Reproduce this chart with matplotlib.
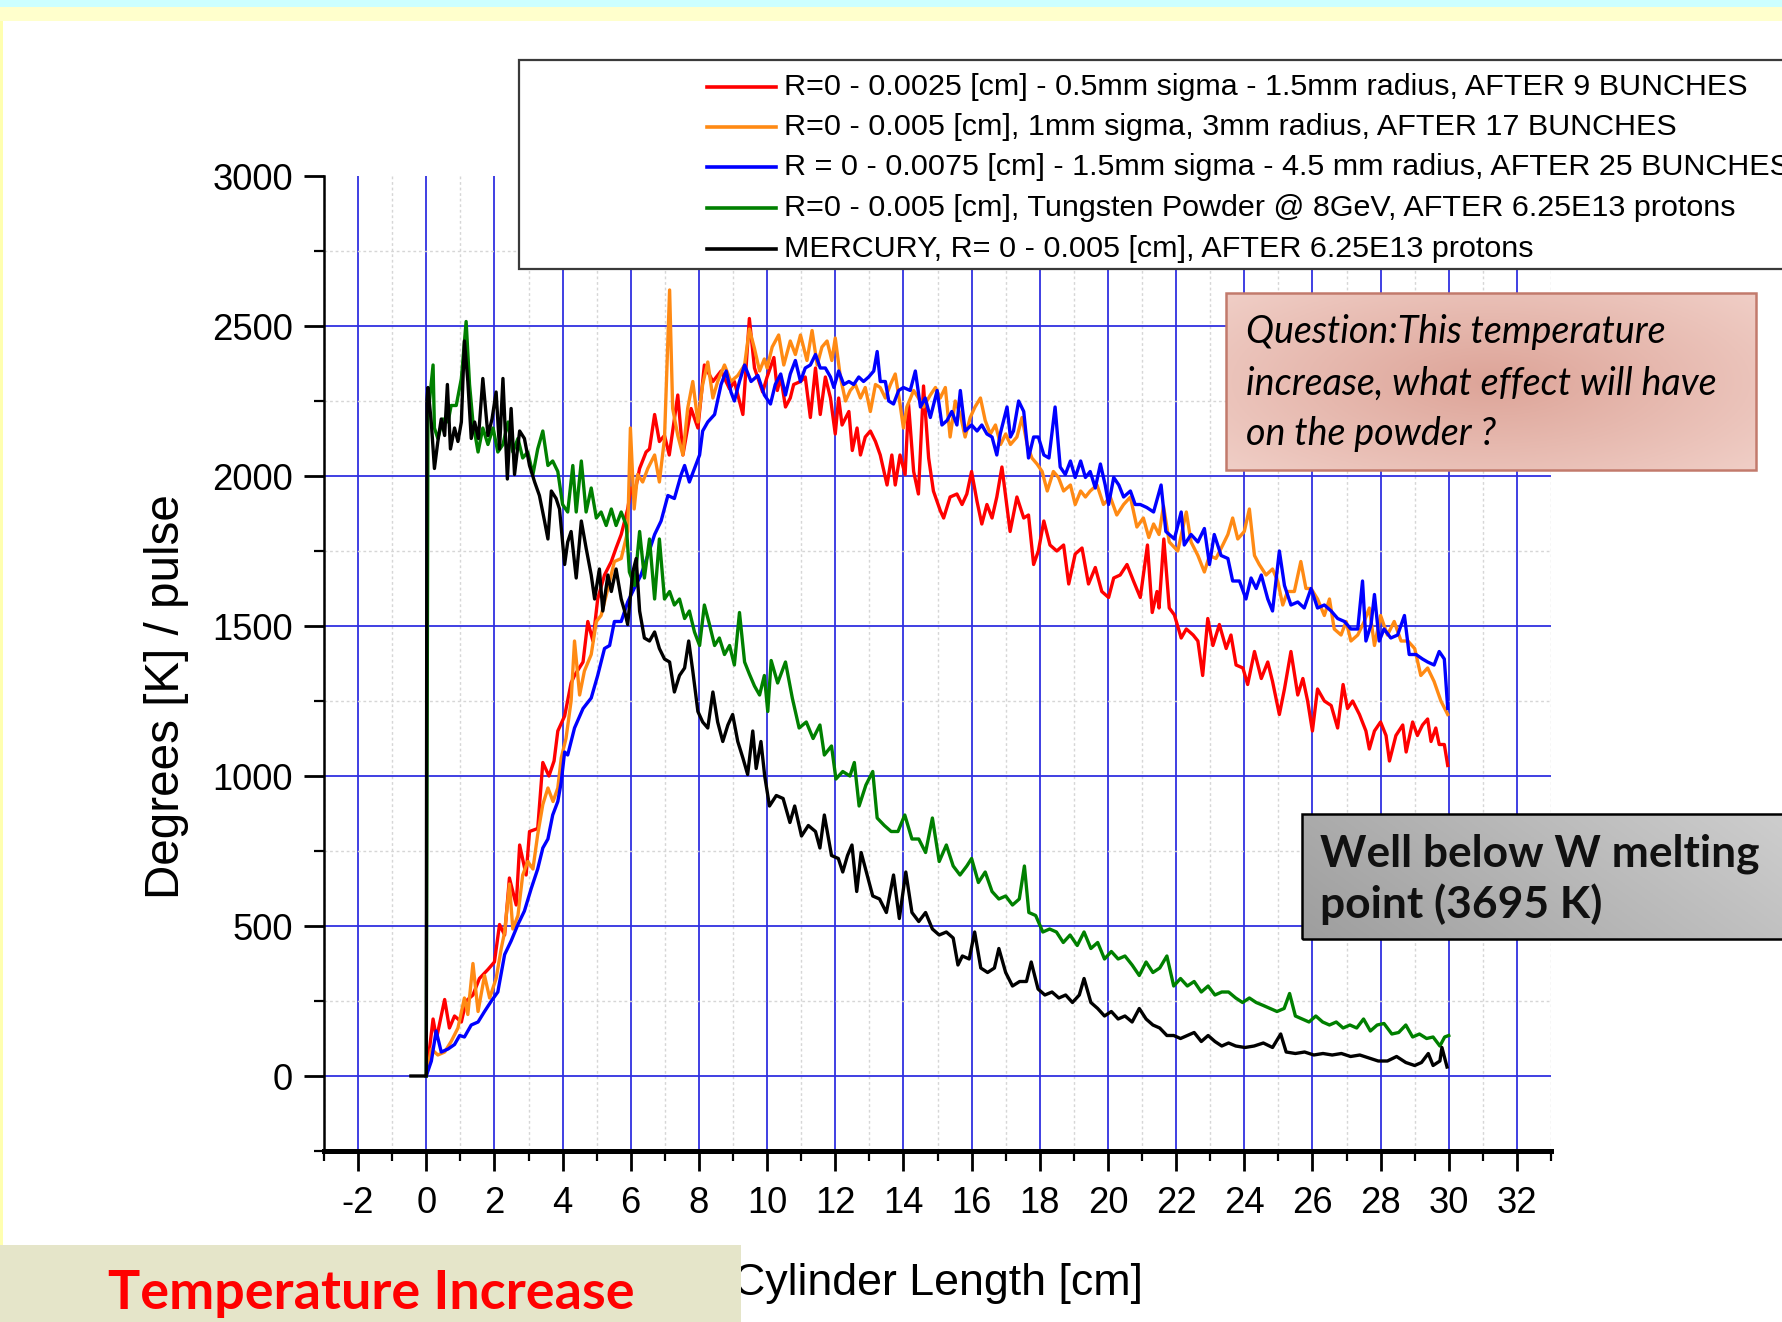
import numpy as np
import matplotlib
matplotlib.use('Agg')
import matplotlib.pyplot as plt
from matplotlib import font_manager as fm
from matplotlib.patches import Rectangle
from matplotlib.lines import Line2D
from matplotlib.ticker import MultipleLocator


def has_font(name):
    try:
        fm.findfont(fm.FontProperties(family=name), fallback_to_default=False)
        return True
    except Exception:
        return False


MAIN = 'Liberation Sans Narrow' if has_font('Liberation Sans Narrow') else 'Liberation Sans'
HUM = 'Lato' if has_font('Lato') else 'DejaVu Sans'
plt.rcParams['font.family'] = [MAIN, 'DejaVu Sans']
plt.rcParams['axes.unicode_minus'] = False

# ---------------- data ----------------
red_x = [0, 0.2, 0.3, 0.54, 0.68, 0.83, 1.03, 1.17, 1.37, 1.56, 1.81, 2.0, 2.15, 2.3, 2.44, 2.64, 2.74, 2.93, 3.03,
         3.27, 3.42, 3.6, 3.75, 3.86, 4.06, 4.25, 4.35, 4.6, 4.74, 4.89, 5.03, 5.23, 5.43, 5.57, 5.72, 5.91, 6.01,
         6.1, 6.26, 6.45, 6.55, 6.7, 6.84, 6.99, 7.13, 7.38, 7.53, 7.77, 7.97, 8.16, 8.41, 8.65, 8.9, 9.04, 9.29,
         9.48, 9.63, 9.87, 10.0, 10.2, 10.3, 10.4, 10.54, 10.68, 10.78, 10.98, 11.12, 11.27, 11.42, 11.56, 11.71,
         11.86, 12.0, 12.1, 12.2, 12.4, 12.5, 12.64, 12.74, 12.88, 13.03, 13.18, 13.32, 13.52, 13.66, 13.76, 13.9,
         14.05, 14.15, 14.3, 14.44, 14.59, 14.74, 14.88, 15.08, 15.18, 15.37, 15.57, 15.72, 15.86, 16.0, 16.16,
         16.3, 16.45, 16.6, 16.74, 16.89, 17.03, 17.13, 17.33, 17.53, 17.67, 17.82, 17.96, 18.12, 18.3, 18.5, 18.7,
         18.85, 19.04, 19.24, 19.43, 19.63, 19.82, 20.02, 20.17, 20.36, 20.56, 20.75, 20.95, 21.16, 21.3, 21.44,
         21.5, 21.64, 21.8, 21.95, 22.15, 22.3, 22.5, 22.64, 22.78, 22.93, 23.08, 23.27, 23.47, 23.61, 23.76,
         23.96, 24.1, 24.3, 24.5, 24.69, 24.83, 25.03, 25.18, 25.37, 25.57, 25.72, 25.86, 26.0, 26.15, 26.35,
         26.55, 26.74, 26.9, 27.03, 27.18, 27.38, 27.57, 27.67, 27.82, 28.0, 28.16, 28.26, 28.45, 28.65, 28.75,
         28.94, 29.08, 29.23, 29.38, 29.48, 29.62, 29.72, 29.87, 29.97]
red_y = [0, 190, 125, 255, 160, 200, 180, 250, 270, 325, 355, 380, 505, 470, 660, 570, 770, 670, 815,
         825, 1045, 1000, 1050, 1150, 1200, 1310, 1335, 1380, 1515, 1450, 1590, 1670, 1715, 1760, 1805, 1890, 1960,
         1935, 2025, 2080, 2090, 2205, 2115, 2135, 2070, 2270, 2070, 2225, 2160, 2370, 2315, 2350, 2290, 2315, 2205,
         2525, 2360, 2280, 2330, 2395, 2285, 2330, 2230, 2260, 2305, 2315, 2330, 2195, 2360, 2205, 2330,
         2260, 2140, 2260, 2170, 2215, 2085, 2160, 2070, 2130, 2150, 2115, 2070, 1970, 2070, 1970, 2070,
         2005, 2240, 2015, 1940, 2300, 2060, 1950, 1885, 1860, 1930, 1940, 1905, 1940, 2015, 1915,
         1840, 1905, 1860, 1930, 2030, 1905, 1815, 1930, 1860, 1870, 1705, 1750, 1850, 1770, 1750, 1770,
         1640, 1740, 1760, 1640, 1695, 1615, 1595, 1660, 1670, 1705, 1650, 1595, 1770, 1545, 1615,
         1560, 1790, 1560, 1537, 1460, 1490, 1470, 1450, 1335, 1525, 1435, 1505, 1425, 1470, 1370,
         1360, 1305, 1415, 1325, 1380, 1315, 1205, 1290, 1415, 1270, 1325, 1250, 1150, 1290, 1250,
         1235, 1160, 1305, 1225, 1250, 1205, 1150, 1090, 1150, 1180, 1135, 1050, 1135, 1170, 1080,
         1180, 1135, 1170, 1190, 1115, 1160, 1105, 1105, 1035]

orange_x = [0, 0.15, 0.34, 0.54, 0.73, 0.93, 1.12, 1.22, 1.37, 1.52, 1.71, 1.86, 2.05, 2.2, 2.3, 2.44, 2.54, 2.69,
            2.83, 2.98, 3.13, 3.27, 3.42, 3.57, 3.72, 3.86, 3.96, 4.1, 4.25, 4.35, 4.5, 4.64, 4.84, 4.99, 5.13,
            5.33, 5.52, 5.72, 5.91, 5.99, 6.1, 6.2, 6.35, 6.5, 6.7, 6.84, 6.99, 7.14, 7.23, 7.38, 7.53, 7.67, 7.82,
            7.97, 8.11, 8.26, 8.41, 8.55, 8.75, 8.94, 9.14, 9.34, 9.48, 9.63, 9.78, 9.92, 10.0, 10.15, 10.34,
            10.49, 10.68, 10.83, 10.98, 11.17, 11.32, 11.47, 11.61, 11.76, 11.9, 12.0, 12.15, 12.3, 12.44, 12.59,
            12.74, 12.88, 13.03, 13.18, 13.32, 13.47, 13.62, 13.76, 13.9, 14.0, 14.1, 14.3, 14.44, 14.59, 14.79,
            14.94, 15.08, 15.23, 15.37, 15.52, 15.67, 15.81, 15.96, 16.1, 16.26, 16.4, 16.55, 16.7, 16.85, 17.0,
            17.14, 17.33, 17.48, 17.63, 17.77, 17.92, 18.07, 18.22, 18.4, 18.55, 18.7, 18.9, 19.04, 19.2, 19.34,
            19.48, 19.68, 19.87, 20.07, 20.26, 20.46, 20.66, 20.85, 21.04, 21.2, 21.34, 21.5, 21.63, 21.8, 22.05,
            22.3, 22.44, 22.64, 22.83, 22.98, 23.17, 23.37, 23.52, 23.66, 23.81, 24.0, 24.15, 24.3, 24.44, 24.64,
            24.83, 24.98, 25.13, 25.27, 25.47, 25.66, 25.81, 25.96, 26.15, 26.35, 26.5, 26.64, 26.84, 26.99,
            27.13, 27.33, 27.52, 27.67, 27.82, 28.0, 28.2, 28.4, 28.6, 28.8, 29.0, 29.18, 29.38, 29.57, 29.77,
            29.97]
orange_y = [0, 90, 70, 80, 115, 160, 260, 205, 375, 215, 335, 260, 325, 425, 480, 640, 490, 535,
            670, 715, 690, 805, 905, 960, 915, 960, 1060, 1125, 1250, 1450, 1270, 1350, 1405, 1515, 1535,
            1625, 1715, 1725, 1815, 2160, 1890, 2005, 1980, 2025, 2070, 1980, 2125, 2620, 2225, 2135, 2070, 2225,
            2315, 2180, 2305, 2380, 2260, 2315, 2370, 2315, 2335, 2370, 2490, 2425, 2350, 2390, 2360, 2430, 2470,
            2370, 2450, 2405, 2470, 2385, 2485, 2370, 2430, 2450, 2385, 2460, 2330, 2250, 2285, 2305,
            2260, 2295, 2215, 2305, 2295, 2260, 2305, 2340, 2240, 2160, 2230, 2285, 2260, 2230, 2270,
            2295, 2260, 2295, 2130, 2250, 2205, 2130, 2195, 2230, 2260, 2185, 2140, 2170, 2105, 2140,
            2105, 2130, 2195, 2105, 2060, 2040, 2015, 1950, 2015, 1995, 1950, 1970, 1905, 1950, 1930,
            1950, 1970, 1905, 1930, 1870, 1905, 1930, 1830, 1860, 1795, 1840, 1805, 1900, 1780, 1750,
            1880, 1780, 1735, 1680, 1735, 1725, 1770, 1805, 1860, 1790, 1815, 1890, 1735, 1705, 1670,
            1690, 1650, 1570, 1615, 1615, 1715, 1625, 1625, 1590, 1535, 1590, 1490, 1470, 1515,
            1450, 1470, 1515, 1560, 1435, 1535, 1470, 1515, 1450, 1450, 1425, 1335, 1360, 1315, 1250,
            1205]

blue_x = [0, 0.15, 0.29, 0.44, 0.64, 0.83, 0.98, 1.12, 1.32, 1.52, 1.71, 1.91, 2.1, 2.3, 2.49, 2.69, 2.88, 3.08,
          3.27, 3.42, 3.57, 3.71, 3.86, 3.96, 4.06, 4.15, 4.35, 4.6, 4.84, 5.03, 5.23, 5.38, 5.52, 5.72, 5.91, 6.1,
          6.3, 6.5, 6.7, 6.89, 7.09, 7.28, 7.48, 7.58, 7.72, 7.87, 8.02, 8.11, 8.26, 8.46, 8.65, 8.8, 8.94, 9.04,
          9.19, 9.34, 9.53, 9.73, 9.92, 10.1, 10.24, 10.4, 10.54, 10.68, 10.83, 10.98, 11.12, 11.27, 11.42, 11.56,
          11.71, 11.86, 11.96, 12.1, 12.25, 12.4, 12.54, 12.69, 12.83, 12.98, 13.13, 13.23, 13.32, 13.47, 13.57,
          13.71, 13.86, 14.0, 14.2, 14.35, 14.5, 14.64, 14.79, 14.99, 15.13, 15.28, 15.42, 15.57, 15.67, 15.81,
          16.0, 16.16, 16.3, 16.45, 16.6, 16.74, 16.84, 17.04, 17.14, 17.23, 17.38, 17.53, 17.67, 17.82, 17.96,
          18.12, 18.27, 18.45, 18.6, 18.75, 18.9, 19.04, 19.2, 19.34, 19.48, 19.63, 19.78, 19.92, 20.02, 20.17,
          20.32, 20.46, 20.66, 20.8, 20.95, 21.14, 21.34, 21.56, 21.7, 21.95, 22.15, 22.24, 22.44, 22.64, 22.83,
          22.98, 23.12, 23.32, 23.52, 23.66, 23.86, 24.05, 24.2, 24.35, 24.5, 24.69, 24.83, 25.03, 25.18, 25.37,
          25.57, 25.76, 25.96, 26.15, 26.35, 26.55, 26.74, 26.94, 27.13, 27.33, 27.47, 27.57, 27.72, 27.82,
          27.96, 28.1, 28.3, 28.5, 28.7, 28.84, 29.04, 29.23, 29.38, 29.57, 29.72, 29.87, 29.97]
blue_y = [0, 50, 150, 80, 90, 105, 135, 130, 170, 180, 215, 250, 280, 405, 450, 505, 550, 625,
          690, 760, 790, 870, 915, 980, 1080, 1070, 1160, 1225, 1260, 1335, 1425, 1435, 1515, 1515, 1580, 1625,
          1670, 1735, 1805, 1850, 1935, 1925, 2005, 2035, 1980, 2025, 2070, 2150, 2180, 2205, 2305, 2350, 2280, 2250,
          2315, 2370, 2315, 2335, 2270, 2240, 2305, 2340, 2270, 2340, 2385, 2315, 2360, 2370, 2405, 2360,
          2360, 2330, 2295, 2350, 2305, 2315, 2305, 2330, 2315, 2330, 2350, 2415, 2315, 2315, 2250,
          2240, 2285, 2295, 2285, 2350, 2230, 2260, 2195, 2285, 2170, 2185, 2215, 2170, 2285, 2150,
          2170, 2150, 2170, 2140, 2130, 2070, 2140, 2230, 2130, 2150, 2250, 2215, 2060, 2130, 2130,
          2070, 2060, 2230, 2030, 2005, 2050, 1995, 2050, 1995, 2015, 1960, 2040, 1970, 1905, 1995,
          1970, 1930, 1950, 1905, 1905, 1895, 1880, 1970, 1815, 1790, 1880, 1770, 1805, 1780, 1825,
          1705, 1805, 1735, 1725, 1650, 1650, 1590, 1660, 1625, 1670, 1590, 1550, 1750, 1635, 1570,
          1580, 1560, 1625, 1560, 1570, 1550, 1525, 1515, 1490, 1490, 1650, 1450, 1505, 1605,
          1450, 1490, 1460, 1470, 1535, 1405, 1405, 1390, 1380, 1370, 1415, 1390, 1225]

green_x = [0, 0.05, 0.2, 0.24, 0.34, 0.49, 0.64, 0.73, 0.88, 1.03, 1.17, 1.27, 1.37, 1.52, 1.66, 1.81, 1.96, 2.1,
           2.25, 2.4, 2.54, 2.69, 2.83, 2.98, 3.13, 3.27, 3.42, 3.57, 3.71, 3.86, 4.0, 4.15, 4.3, 4.4, 4.55, 4.69,
           4.84, 4.99, 5.13, 5.28, 5.43, 5.57, 5.72, 5.87, 5.96, 6.11, 6.26, 6.4, 6.55, 6.7, 6.84, 6.99, 7.14,
           7.28, 7.43, 7.58, 7.72, 7.87, 8.02, 8.16, 8.31, 8.46, 8.6, 8.75, 8.9, 9.04, 9.19, 9.34, 9.48, 9.63,
           9.78, 9.92, 10.02, 10.12, 10.31, 10.54, 10.74, 10.94, 11.15, 11.35, 11.55, 11.68, 11.89, 12.02, 12.22,
           12.43, 12.56, 12.7, 12.9, 13.1, 13.23, 13.44, 13.64, 13.84, 14.04, 14.25, 14.45, 14.65, 14.85, 15.05,
           15.26, 15.46, 15.66, 15.86, 16.0, 16.2, 16.4, 16.6, 16.8, 17.0, 17.2, 17.4, 17.55, 17.68, 17.88, 18.09,
           18.29, 18.49, 18.69, 18.89, 19.1, 19.3, 19.5, 19.7, 19.9, 20.1, 20.3, 20.5, 20.71, 20.92, 21.12, 21.32,
           21.52, 21.73, 21.93, 22.13, 22.33, 22.53, 22.74, 22.94, 23.14, 23.34, 23.54, 23.75, 23.95, 24.15,
           24.35, 24.56, 24.76, 24.96, 25.17, 25.33, 25.5, 25.7, 25.9, 26.1, 26.3, 26.5, 26.7, 26.9, 27.1, 27.3,
           27.5, 27.7, 27.9, 28.1, 28.33, 28.53, 28.74, 28.94, 29.14, 29.35, 29.54, 29.74, 29.88, 30.0]
green_y = [0, 2200, 2370, 2160, 2125, 2190, 2180, 2235, 2235, 2325, 2515, 2305, 2180, 2080, 2160, 2105, 2160, 2080,
           2105, 2180, 2080, 2125, 2060, 2080, 2005, 2090, 2150, 2035, 2050, 2015, 1905, 1880, 2035, 1880, 2050, 1880,
           1960, 1860, 1880, 1835, 1890, 1835, 1880, 1835, 1680, 1635, 1815, 1660, 1790, 1590, 1790, 1590, 1615,
           1570, 1590, 1525, 1550, 1480, 1435, 1570, 1505, 1435, 1460, 1405, 1435, 1370, 1545, 1380, 1340, 1300,
           1270, 1335, 1215, 1385, 1310, 1380, 1260, 1160, 1180, 1125, 1170, 1070, 1100, 990, 1015,
           1000, 1045, 900, 970, 1015, 860, 835, 815, 815, 870, 790, 790, 745, 860, 715,
           770, 700, 670, 700, 725, 645, 680, 615, 590, 600, 570, 590, 700, 545, 535, 480,
           490, 480, 445, 470, 435, 480, 425, 445, 390, 415, 390, 400, 370, 335, 380, 345,
           360, 400, 300, 325, 300, 315, 280, 300, 270, 280, 280, 260, 245, 260,
           245, 235, 225, 215, 225, 275, 200, 190, 180, 200, 180, 170, 180, 160, 170, 160,
           190, 150, 170, 175, 140, 145, 170, 130, 140, 125, 130, 100, 130, 135]

black_x = [-0.45, 0, 0.02, 0.05, 0.15, 0.24, 0.34, 0.44, 0.54, 0.62, 0.71, 0.83, 0.93, 1.03, 1.12, 1.22, 1.32, 1.42,
           1.53, 1.66, 1.81, 1.93, 2.05, 2.15, 2.25, 2.38, 2.49, 2.59, 2.74, 2.88, 3.03, 3.18, 3.32, 3.47, 3.57,
           3.67, 3.81, 3.91, 4.06, 4.15, 4.25, 4.4, 4.55, 4.69, 4.84, 4.94, 5.08, 5.18, 5.33, 5.43, 5.57, 5.72,
           5.82, 5.91, 6.06, 6.16, 6.26, 6.4, 6.55, 6.7, 6.84, 6.99, 7.14, 7.28, 7.43, 7.58, 7.7, 7.82, 7.97, 8.11,
           8.26, 8.41, 8.55, 8.7, 8.85, 8.99, 9.14, 9.29, 9.43, 9.58, 9.68, 9.82, 9.93, 10.07, 10.27, 10.47, 10.67,
           10.81, 11.01, 11.21, 11.42, 11.55, 11.68, 11.89, 12.09, 12.22, 12.36, 12.49, 12.63, 12.76, 12.96, 13.1,
           13.3, 13.5, 13.71, 13.88, 14.07, 14.25, 14.45, 14.65, 14.85, 15.05, 15.26, 15.46, 15.6, 15.73, 15.93,
           16.09, 16.27, 16.47, 16.67, 16.8, 17.0, 17.2, 17.41, 17.61, 17.75, 17.95, 18.15, 18.36, 18.56, 18.76,
           18.96, 19.16, 19.3, 19.5, 19.7, 19.9, 20.1, 20.3, 20.5, 20.71, 20.92, 21.12, 21.32, 21.52, 21.73, 21.93,
           22.13, 22.33, 22.53, 22.74, 22.94, 23.14, 23.34, 23.54, 23.75, 24.02, 24.29, 24.56, 24.83, 25.07,
           25.23, 25.5, 25.77, 26.04, 26.31, 26.58, 26.85, 27.12, 27.39, 27.66, 27.93, 28.2, 28.47, 28.74, 29.0,
           29.2, 29.4, 29.54, 29.74, 29.8, 29.95]
black_y = [0, 0, 2250, 2295, 2175, 2025, 2115, 2190, 2135, 2305, 2090, 2160, 2115, 2180, 2450, 2315, 2125, 2180,
           2125, 2325, 2135, 2190, 2280, 2090, 2325, 1990, 2225, 2005, 2150, 2125, 2035, 1980, 1935, 1850, 1790,
           1950, 1925, 1890, 1705, 1780, 1815, 1660, 1850, 1760, 1670, 1590, 1690, 1550, 1670, 1615, 1690, 1590,
           1550, 1505, 1680, 1725, 1550, 1460, 1450, 1480, 1425, 1390, 1380, 1280, 1335, 1360, 1450, 1350, 1215, 1180,
           1160, 1280, 1180, 1115, 1170, 1205, 1115, 1060, 1005, 1150, 1025, 1115, 1000, 900, 935, 925, 845,
           900, 800, 835, 815, 760, 870, 735, 725, 680, 735, 770, 615, 745, 660, 600,
           590, 545, 670, 525, 680, 545, 515, 545, 490, 470, 480, 460, 370, 400, 390,
           480, 360, 345, 360, 425, 345, 300, 315, 315, 380, 290, 270, 280, 260, 270,
           245, 270, 325, 245, 225, 200, 215, 190, 200, 180, 225, 190, 170, 160, 135, 135,
           125, 135, 145, 115, 135, 115, 100, 110, 100, 95, 100, 110, 95, 140,
           80, 75, 80, 70, 75, 70, 75, 65, 70, 60, 50, 50, 65, 45, 35,
           45, 75, 35, 50, 95, 30]

series_labels = [
    'R=0 - 0.0025 [cm] - 0.5mm sigma - 1.5mm radius, AFTER 9 BUNCHES',
    'R=0 - 0.005 [cm], 1mm sigma, 3mm radius, AFTER 17 BUNCHES',
    'R = 0 - 0.0075 [cm] - 1.5mm sigma - 4.5 mm radius, AFTER 25 BUNCHES',
    'R=0 - 0.005 [cm], Tungsten Powder @ 8GeV, AFTER 6.25E13 protons',
    'MERCURY, R= 0 - 0.005 [cm], AFTER 6.25E13 protons',
]
series_colors = ['#ff0000', '#ff8a14', '#0000ff', '#008000', '#000000']
x_ticks = list(range(-2, 33, 2))
y_ticks = [0, 500, 1000, 1500, 2000, 2500, 3000]
x_label = 'Cylinder Length [cm]'
y_label = 'Degrees [K] / pulse'
question_lines = ['Question:This temperature', 'increase, what effect will have', 'on the powder ?']
melting_lines = ['Well below W melting', 'point (3695 K)']
title_text = 'Temperature Increase'

# ---------------- figure ----------------
W, H = 1782, 1322
fig = plt.figure(figsize=(W / 100, H / 100), dpi=100)
fig.patch.set_facecolor('white')
R = fig.canvas.get_renderer()


def fx(px):
    return px / W


def fy(py):
    return 1 - py / H


def twidth(s, size, **kw):
    t = fig.text(0, 0, s, fontsize=size, **kw)
    w = t.get_window_extent(R).width
    t.remove()
    return w


def fit(s, target, **kw):
    size = 20.0
    for _ in range(3):
        size *= target / twidth(s, size, **kw)
    return size


TICK_FS = fit('3000', 81)
LEG_FS = fit(series_labels[0], 962)
XL_FS = fit(x_label, 410)
YL_FS = fit(y_label, 405)
Q_FS = fit(question_lines[1], 470, family=[HUM, 'DejaVu Sans'], style='italic')
M_FS = fit(melting_lines[0], 440, family=[HUM, 'DejaVu Sans'], weight='bold')
T_FS = fit(title_text, 526, family=[HUM, 'DejaVu Sans'], weight='bold')

# top bands
fig.add_artist(Rectangle((0, fy(7)), 1, 7 / H, transform=fig.transFigure, facecolor='#ccffff',
                         edgecolor='none', zorder=1))
fig.add_artist(Rectangle((0, fy(21)), 1, 14 / H, transform=fig.transFigure, facecolor='#ffffcc',
                         edgecolor='none', zorder=1))
fig.add_artist(Rectangle((0, fy(1245)), fx(2.5), (1245 - 21) / H, transform=fig.transFigure,
                         facecolor='#ffffb0', edgecolor='none', zorder=1))

# main axes
ax = fig.add_axes([fx(324), fy(1151), fx(1551) - fx(324), (1151 - 176) / H])
ax.set_xlim(-3, 33)
ax.set_ylim(-250, 3000)
ax.set_axisbelow(True)
GRIDBLUE = '#3030e0'
ax.set_xticks(x_ticks)
ax.xaxis.set_minor_locator(MultipleLocator(1))
ax.set_yticks(y_ticks)
ax.yaxis.set_minor_locator(MultipleLocator(250))
ax.grid(axis='x', which='major', color=GRIDBLUE, lw=1.3)
ax.grid(axis='x', which='minor', color='#d6d6d6', lw=1.0, ls=(0, (2, 2)))
for yv in y_ticks[:-1]:
    ax.axhline(yv, color=GRIDBLUE, lw=1.3, zorder=0.6)
for yv in np.arange(250, 3000, 500):
    ax.axhline(yv, color='#d6d6d6', lw=1.0, ls=(0, (2, 2)), zorder=0.55)

for sp in ('top', 'right'):
    ax.spines[sp].set_visible(False)
ax.spines['left'].set_linewidth(1.8)
ax.spines['bottom'].set_linewidth(3.6)
ax.tick_params(axis='both', which='major', direction='out', length=14.5, width=2.0,
               labelsize=TICK_FS, colors='black')
ax.tick_params(axis='both', which='minor', direction='out', length=7, width=1.6)
ax.tick_params(axis='y', which='major', pad=8)
ax.tick_params(axis='x', which='major', pad=11)

xs = [red_x, orange_x, blue_x, green_x, black_x]
ys = [red_y, orange_y, blue_y, green_y, black_y]
for xv, yv, c in zip(xs, ys, series_colors):
    ax.plot(xv, yv, color=c, lw=2.4, zorder=3, solid_joinstyle='round')

ax.set_xlabel(x_label, fontsize=XL_FS, va='baseline')
ax.xaxis.set_label_coords(0.5, (1151 - 1295) / 975)
ax.set_ylabel(y_label, fontsize=YL_FS, va='center', ha='center')
ax.yaxis.set_label_coords((167 - 324) / 1227, (1151 - 697) / 975)

# legend (manual box)
fig.add_artist(Rectangle((fx(519), fy(269)), fx(1800) - fx(519), (269 - 60) / H,
                         transform=fig.transFigure, facecolor='white', edgecolor='#3a3a3a',
                         lw=1.6, zorder=1))
rows = [87, 127, 167, 208, 249]
for r, lab, c in zip(rows, series_labels, series_colors):
    fig.add_artist(Line2D([fx(707), fx(776)], [fy(r), fy(r)], transform=fig.transFigure,
                          color=c, lw=2.6, zorder=2))
    fig.text(fx(784), fy(r), lab, fontsize=LEG_FS, va='center', ha='left', zorder=3)

# pink question box with gradient
pax = fig.add_axes([fx(1226), fy(470), fx(1756) - fx(1226), (470 - 293) / H])
gx, gy = np.meshgrid(np.linspace(-1, 1, 200), np.linspace(-1, 1, 80))
rr = np.clip(np.sqrt((gx * 0.9) ** 2 + (gy * 0.8) ** 2) / 1.2, 0, 1)
c_in = np.array([221, 164, 152]) / 255
c_out = np.array([240, 206, 198]) / 255
img = c_in[None, None, :] * (1 - rr[..., None]) + c_out[None, None, :] * rr[..., None]
pax.imshow(img, aspect='auto', extent=(0, 1, 0, 1))
pax.set_axis_off()
fig.add_artist(Rectangle((fx(1226), fy(470)), fx(1756) - fx(1226), (470 - 293) / H,
                         transform=fig.transFigure, facecolor='none', edgecolor='#c27a6c',
                         lw=1.8, zorder=1))
for yb, line in zip([343, 395, 445], question_lines):
    fig.text(fx(1246), fy(yb), line, fontsize=Q_FS, style='italic', family=[HUM, 'DejaVu Sans'],
             va='baseline', ha='left', color='black', zorder=3)

# gray melting-point box with gradient
gax = fig.add_axes([fx(1302), fy(939), 1.02 - fx(1302), (939 - 814) / H])
hx, hy = np.meshgrid(np.linspace(0, 1, 200), np.linspace(0, 1, 60))
tv = np.clip(0.75 * hx + 0.25 * (1 - hy), 0, 1)
g_img = (158 + 50 * tv) / 255
gimg = np.dstack([g_img, g_img, g_img])
gax.imshow(gimg, aspect='auto', extent=(0, 1, 0, 1))
gax.set_axis_off()
fig.add_artist(Rectangle((fx(1302), fy(939)), 1.05 - fx(1302), (939 - 814) / H,
                         transform=fig.transFigure, facecolor='none', edgecolor='black',
                         lw=1.8, zorder=1))
for yb, line in zip([867, 918], melting_lines):
    fig.text(fx(1320), fy(yb), line, fontsize=M_FS, weight='bold', family=[HUM, 'DejaVu Sans'],
             va='baseline', ha='left', color='#111111', zorder=3)

# beige title box
fig.add_artist(Rectangle((0, 0), fx(741), (1322 - 1245) / H, transform=fig.transFigure,
                         facecolor='#e5e5c9', edgecolor='none', zorder=1))
fig.text(fx(371), fy(1309), title_text, fontsize=T_FS, weight='bold', family=[HUM, 'DejaVu Sans'],
         color='#ff0000', va='baseline', ha='center', zorder=3)

fig.savefig('out.png', dpi=100, facecolor=fig.get_facecolor())
